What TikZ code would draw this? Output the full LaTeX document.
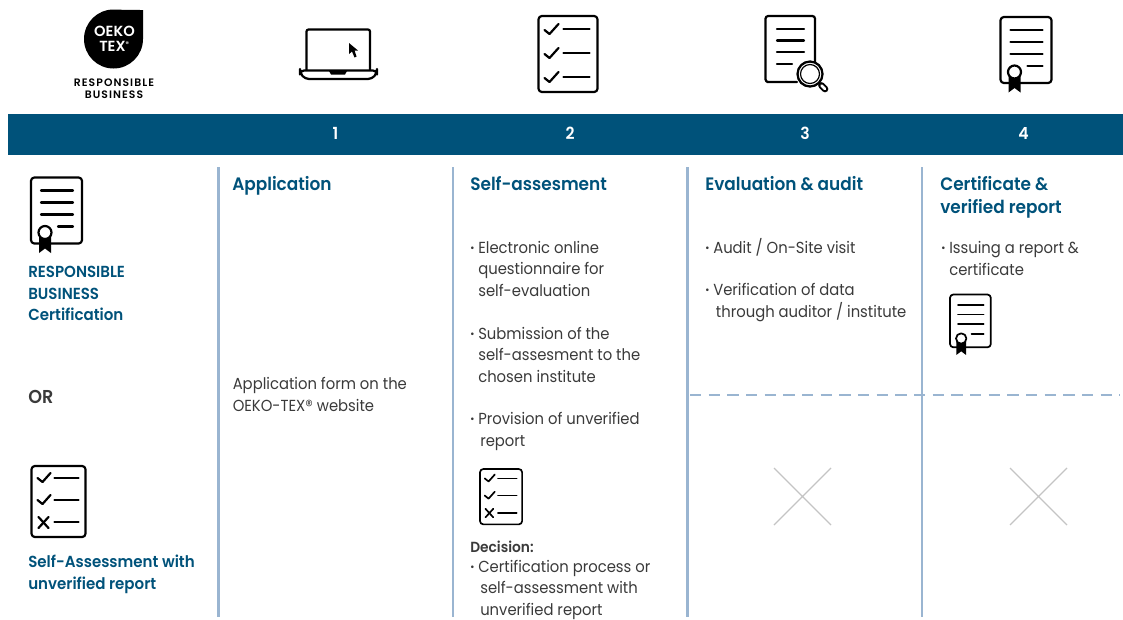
\documentclass[tikz,border=0pt]{standalone}
\usepackage{fontspec}
\setmainfont{Poppins}[BoldFont=Poppins SemiBold,FakeStretch=0.925,BoldFeatures={FakeStretch=0.94}]
\newfontfamily\logofont{Poppins SemiBold}
\definecolor{petrol}{HTML}{00527A}
\definecolor{bodytxt}{HTML}{3A3A3A}
\definecolor{rulecol}{HTML}{9AB5D1}
\definecolor{crosscol}{HTML}{C4C4C4}
\newcommand{\bul}{\makebox[6pt][l]{\hspace*{0pt}\textbf{·}}}
\newcommand{\ind}{\hspace*{6pt}}
\def\lw{1.65pt}
\tikzset{
  ln/.style={line width=\lw,line cap=round,line join=round,black},
  body/.style={anchor=base west,inner sep=0pt,align=left,text=bodytxt,font=\fontsize{12}{16.1}\selectfont},
  head/.style={anchor=base west,inner sep=0pt,align=left,text=petrol,font=\fontsize{13.5}{17}\selectfont\bfseries},
  side/.style={anchor=base west,inner sep=0pt,align=left,text=petrol,font=\fontsize{12}{16.1}\selectfont\bfseries},
  num/.style={inner sep=0pt,text=white,font=\fontsize{12.5}{15}\selectfont\bfseries},
  vrule/.style={rulecol,line width=1.9pt},
  xmark/.style={crosscol,line width=1pt},
  cert/.pic={
    \draw[ln,rounded corners=2.5] (0,0) rectangle (51,66);
    \foreach \yy in {13,25,37} \draw[ln] (10,\yy)--(42,\yy);
    \draw[ln] (27,49)--(42,49);
    \fill[black] (8,58)--(8,75.5)--(14,71)--(20,75.5)--(20,58)--cycle;
    \draw[ln,fill=white] (14,55) circle (6.5);
  },
  checks/.pic={
    \draw[ln,rounded corners=2.5] (0,0) rectangle (59,76);
    \foreach \yy in {13,37,61} {\draw[ln] (25,\yy)--(51,\yy);
      \draw[ln] (6,\yy+1)--(11,\yy+5)--(20,\yy-5);}
  },
  checkx/.pic={
    \draw[ln,rounded corners=2.5] (0,0) rectangle (54,71);
    \foreach \yy in {12,34} {\draw[ln] (23,\yy)--(47,\yy);
      \draw[ln] (6,\yy)--(11,\yy+4)--(19,\yy-5);}
    \draw[ln] (23,56)--(47,56);
    \draw[ln] (7,51)--(17,62) (17,51)--(7,62);
  },
}
\begin{document}
\begin{tikzpicture}[x=0.75pt,y=-0.75pt]
\useasboundingbox (0,0) rectangle (1123,619);
% logo
\fill[black] (143,10)--(143,39) arc (0:270:29.5) .. controls (113.5,9.5) and (125,10) .. (143,10)--cycle;
\node[inner sep=0pt,text=white,align=center,font=\logofont\fontsize{11}{11.5}\selectfont] (logotxt) at (114.5,39) {OEKO\\TEX\textsuperscript{\tiny®}};
\node[inner sep=0pt,align=center,font=\logofont\fontsize{8.1}{9}\selectfont\addfontfeatures{LetterSpace=10}] (logosub) at (114,89) {RESPONSIBLE\\BUSINESS};
% laptop
\draw[ln] (306.5,70)--(306.5,31.5) [rounded corners=1.5] -- (306.5,29.5)--(370,29.5)--(370,70);
\draw[ln,rounded corners=3] (300,70.5)--(377,70.5)--(377,73)--(372,79)--(305,79)--(300,73)--cycle;
\fill[black] (329,71)--(347,71)--(345,74.5)--(331,74.5)--cycle;
\fill[black] (349,43)--(349,54)--(352,51.5)--(354.5,57.5)--(356.5,56.5)--(354.5,50.5)--(358,50.5)--cycle;
% top icons
\pic at (538.5,16) {checks};
\draw[ln] (797,82)--(767,82) [rounded corners=2] -- (765.5,82) -- (765.5,16)--(815,16)--(815,62);
\foreach \yy in {29,40.5,52} \draw[ln] (777,\yy)--(804,\yy);
\draw[ln] (777,64)--(792,64);
\draw[line width=1.7pt,fill=white] (810,74) circle (12.5);
\draw[line width=0.9pt] (810,74) circle (9.5);
\draw[line width=2pt,line cap=round] (819,83)--(821,85);
\draw[line width=5pt,line cap=round] (821.5,85.5)--(825,89);
\draw[white,line width=2pt,line cap=round] (821.5,85.5)--(825,89);
\pic at (1000.5,17) {cert};
% bar
\fill[petrol] (8,114) rectangle (1123,155);
\node[num] (n1) at (335.5,133.5) {1};
\node[num] (n2) at (570,133.5) {2};
\node[num] (n3) at (805,133.5) {3};
\node[num] (n4) at (1023.5,133.5) {4};
% rules
\foreach \xx in {218.5,453,687.5,922} \draw[vrule] (\xx,167)--(\xx,617);
\draw[rulecol,line width=1.1pt,dash pattern=on 8.5pt off 5.5pt] (690,395)--(1120,395);
% left column
\pic at (31,177.5) {cert};
\node[side] (s1) at (28,320.5) {RESPONSIBLE\\BUSINESS\\Certification};
\node[side,text=bodytxt,font=\fontsize{14}{16}\selectfont\bfseries] (or) at (28,403) {OR};
\pic at (31.5,466) {checkx};
\node[side] (s2) at (28,589) {Self-Assessment with\\unverified report};
% headings
\node[head] (h1) at (232,190.5) {Application};
\node[head] (h2) at (470,190.5) {Self-assesment};
\node[head] (h3) at (705,190.5) {Evaluation \& audit};
\node[head] (h4) at (940,213.5) {Certificate \&\\verified report};
% col 1
\node[body] (a1) at (232.5,411) {Application form on the\\OEKO-TEX® website};
% col 2
\node[body] (b1) at (470,296) {\bul Electronic online\\\ind questionnaire for\\\ind self-evaluation};
\node[body] (b2) at (470,382) {\bul Submission of the\\\ind self-assesment to the\\\ind chosen institute};
\node[body] (b3) at (470,446) {\bul Provision of unverified\\\hspace*{7.5pt}report};
\def\lw{1.25pt}
\pic[scale=0.78] at (480,469) {checkx};
\def\lw{1.65pt}
\node[body,font=\fontsize{11}{14}\selectfont\bfseries] (b4) at (470,552) {Decision:};
\node[body] (b5) at (470,615) {\bul Certification process or\\\hspace*{7.5pt}self-assessment with\\\hspace*{7.5pt}unverified report};
% col 3
\node[body] (c1) at (705,253) {\bul Audit / On-Site visit};
\node[body] (c2) at (705,317) {\bul Verification of data\\\hspace*{8pt}through auditor / institute};
% col 4
\node[body] (d1) at (941,275) {\bul Issuing a report \&\\\ind certificate};
\def\lw{1.3pt}
\pic[scale=0.8] at (950,294.5) {cert};
\def\lw{1.65pt}
% crosses
\draw[xmark] (774,468)--(831,525) (831,468)--(774,525);
\draw[xmark] (1010,468)--(1067,525) (1067,468)--(1010,525);
\end{tikzpicture}
\end{document}
